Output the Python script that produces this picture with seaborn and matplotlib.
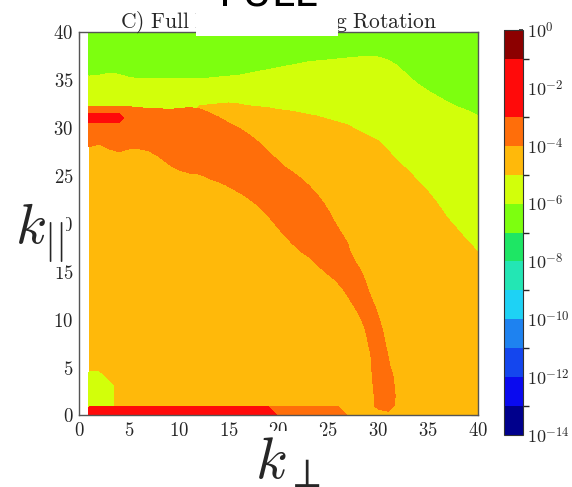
import numpy as np
import matplotlib
matplotlib.use("Agg")
import matplotlib.pyplot as plt
from matplotlib.colors import ListedColormap, BoundaryNorm
from matplotlib.cm import ScalarMappable
from matplotlib.patches import Rectangle
import seaborn as sns

sns.set_theme(style="white")
plt.rcParams["mathtext.fontset"] = "cm"
plt.rcParams["font.family"] = ["DejaVu Sans"]

# ---- wavenumber grid -------------------------------------------------------
kperp = np.arange(1, 41)          # k_perp = 1 .. 40
kpar = np.arange(0, 41)           # k_par  = 0 .. 40

# ---- colour scale: one band per decade, 1e-14 .. 1e0 -----------------------
decades = np.arange(-14, 1)
band_colors = [
    "#00008c", "#0a0aef", "#1446ee", "#1e82f0", "#1ed2f5", "#23e6b4",
    "#1ee664", "#7dff0f", "#d2ff0a", "#ffb90a", "#ff6e0a", "#ff0a0a",
    "#ff0a0a", "#8c0000",
]

# log10 energy of each region
e_bulk = -4.5
e_upper = -5.5
e_top = -6.5
e_ridge = -3.5
e_peak = -2.5

# upper boundary of the bulk region, per k_perp column
upper_floor = [31.5, 31.5, 31.5, 31.5, 31.5, 31.5, 31.5, 31.5, 31.5, 31.5,
               31.5, 32.4, 32.5, 32.6, 32.7, 32.6, 32.4, 32.3, 32.2, 32.0,
               31.9, 31.7, 31.5, 31.3, 31.0, 30.7, 30.4, 29.8, 29.3, 28.8,
               27.8, 26.6, 25.7, 24.6, 23.5, 22.2, 20.7, 19.5, 18.3, 17.2]

# lower boundary of the top region, per k_perp column
top_floor = [35.5, 35.6, 35.8, 35.7, 35.4, 35.2, 35.2, 35.2, 35.2, 35.2,
             35.2, 35.2, 35.3, 35.4, 35.5, 35.6, 35.8, 36.0, 36.2, 36.4,
             36.6, 36.8, 37.0, 37.1, 37.2, 37.3, 37.4, 37.5, 37.5, 37.5,
             37.2, 36.6, 35.6, 34.7, 34.0, 33.4, 32.8, 32.3, 31.9, 31.4]

# ridge (arc) extent: upper part by column (k_par range) ...
ridge_col_lo = [28.0, 28.3, 27.8, 27.5, 27.8, 27.8, 27.6, 27.0, 26.2, 25.8,
                25.6, 25.5, 25.2, 24.9, 24.3, 23.5, 22.8, 21.9, 20.8, 19.6,
                18.4, 17.3]
ridge_col_hi = [32.2, 32.2, 32.2, 32.2, 32.2, 32.1, 32.0, 32.0, 31.9, 32.0,
                32.1, 32.0, 31.6, 31.1, 30.5, 30.0, 29.3, 28.5, 27.5, 26.5,
                25.4, 24.6]
# ... lower part by row (k_perp range), k_par = 0 .. 26
ridge_row_lo = [30.6, 29.6, 29.6, 29.5, 29.4, 29.35, 29.3, 29.1, 28.9, 28.7,
                28.3, 27.8, 27.2, 26.6, 25.8, 24.6, 23.6, 22.5, 21.3, 20.4,
                19.6, 18.8, 17.8, 16.5, 14.8, 12.5, 9.5]
ridge_row_hi = [30.6, 31.6, 31.7, 31.6, 31.5, 31.2, 31.0, 30.8, 30.6, 30.4,
                30.1, 29.8, 29.4, 29.0, 28.7, 28.3, 27.7, 27.2, 26.9, 26.3,
                25.7, 25.2, 24.6, 23.9, 23.0, 21.9, 20.5]

# isolated peak near the upper-left
peak_kperp = [1, 2, 3, 4]
peak_kpar = 31

# k_par = 0 plane
floor_peak_end = 19
floor_ridge_end = 26

# low-energy corner cells: k_par -> last k_perp
corner_kpar = [1, 2, 3, 4]
corner_last_kperp = [3, 3, 3, 2]

# ---- region fields ---------------------------------------------------------
X, Y = np.meshgrid(kperp, kpar)

upper_field = Y - np.asarray(upper_floor)[X - 1]
top_field = Y - np.asarray(top_floor)[X - 1]

col_lo = np.full(kperp.size, np.nan)
col_hi = np.full(kperp.size, np.nan)
col_lo[:len(ridge_col_lo)] = ridge_col_lo
col_hi[:len(ridge_col_hi)] = ridge_col_hi
fc = np.minimum(Y - col_lo[X - 1], col_hi[X - 1] - Y)
fc = np.where(np.isnan(fc), -10.0, fc)

row_lo = np.full(kpar.size, np.nan)
row_hi = np.full(kpar.size, np.nan)
row_lo[:len(ridge_row_lo)] = ridge_row_lo
row_hi[:len(ridge_row_hi)] = ridge_row_hi
fr = np.minimum(X - row_lo[Y], row_hi[Y] - X)
fr = np.where(np.isnan(fr), -10.0, fr)
ridge_field = np.maximum(fc, fr)

peak_mask = np.zeros(X.shape)
peak_mask[peak_kpar, np.asarray(peak_kperp) - 1] = 1.0

corner_mask = np.zeros(X.shape)
for r, last in zip(corner_kpar, corner_last_kperp):
    corner_mask[r, :last] = 1.0

floor_red = np.zeros(X.shape)
floor_red[0, :floor_peak_end] = 1.0
floor_orange = np.zeros(X.shape)
floor_orange[0, :floor_ridge_end] = 1.0

# ---- figure ----------------------------------------------------------------
cmap = ListedColormap(band_colors)
norm = BoundaryNorm(decades, cmap.N)

fig = plt.figure(figsize=(5.72, 4.87), dpi=100)
fig.patch.set_facecolor("white")
ax = fig.add_axes([79 / 572, 72 / 487, 399 / 572, 383 / 487])
cax = fig.add_axes([504 / 572, 52 / 487, 19 / 572, 405 / 487])
ax.set_facecolor("white")


def fill(field, level, energy):
    ax.contourf(kperp, kpar, field, levels=[level, 1e3],
                colors=[cmap(norm(energy))])


fill(np.ones(X.shape), 0.5, e_bulk)
fill(upper_field, 0.0, e_upper)
fill(top_field, 0.0, e_top)
fill(ridge_field, 0.0, e_ridge)
fill(peak_mask, 0.5, e_peak)
fill(corner_mask, 0.5, e_upper)
fill(floor_orange, 0.15, e_ridge)
fill(floor_red, 0.15, e_peak)

ticks = np.arange(0, 41, 5)
ax.set_xlim(0, 40)
ax.set_ylim(0, 40)
ax.set_xticks(ticks)
ax.set_yticks(ticks)
ax.set_xticklabels([f"${t}$" for t in ticks])
ax.set_yticklabels([f"${t}$" for t in ticks])
ax.tick_params(direction="in", top=True, right=True, length=5, width=0.8,
               color="#444444", labelsize=13.5, pad=4)
for sp in ax.spines.values():
    sp.set_color("#555555")
    sp.set_linewidth(1.0)

ax.set_title(r"$\mathrm{C)\ Full\ Model\ Including\ Rotation}$",
             fontsize=15.5, pad=3)

sm = ScalarMappable(norm=norm, cmap=cmap)
cb = fig.colorbar(sm, cax=cax, ticks=decades[::2])
cb.ax.set_yticklabels([rf"$10^{{{d}}}$" for d in decades[::2]])
cb.ax.tick_params(direction="in", length=3, labelsize=13, pad=3,
                  color="#333333")
cb.outline.set_edgecolor("#333333")
cb.outline.set_linewidth(0.8)

# slide overlay: label box across the title
fig.add_artist(Rectangle((196 / 572, 1 - 36 / 487), 142 / 572, 36 / 487,
                         transform=fig.transFigure, facecolor="white",
                         edgecolor="none", zorder=10))
fig.text(268 / 572, 1 - 6 / 487, "FULL", fontsize=29, ha="center",
         va="baseline", color="black", zorder=11)

box = dict(facecolor="white", edgecolor="none", boxstyle="square,pad=0.04")
fig.text(15 / 572, 1 - 243 / 487, r"$k_{||}$", fontsize=41, ha="left",
         va="baseline", bbox=box, zorder=12)
fig.text(255 / 572, 1 - 478 / 487, r"$k_{\perp}$", fontsize=42, ha="left",
         va="baseline", bbox=box, zorder=12)

fig.savefig("out.png", dpi=100)
